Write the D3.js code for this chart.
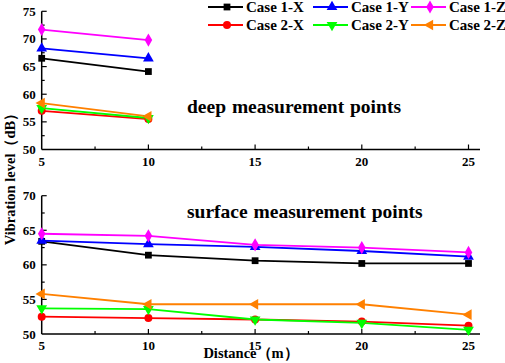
<!DOCTYPE html>
<html>
<head>
<meta charset="utf-8">
<script src="https://cdn.jsdelivr.net/npm/d3@7"></script>
<style>
  body { margin: 0; background: #fff; }
</style>
</head>
<body>
<div id="chart"></div>
<script>
// Data
const seriesNames = ["Case 1-X", "Case 1-Y", "Case 1-Z", "Case 2-X", "Case 2-Y", "Case 2-Z"];
const deepDistance = [5, 10];
const surfaceDistance = [5, 10, 15, 20, 25];

const deepCase1X = [66.5, 64.1];
const deepCase1Y = [68.3, 66.5];
const deepCase1Z = [71.7, 69.8];
const deepCase2X = [57.0, 55.5];
const deepCase2Y = [57.5, 55.7];
const deepCase2Z = [58.4, 56.0];

const surfCase1X = [63.4, 61.4, 60.6, 60.2, 60.2];
const surfCase1Y = [63.5, 63.0, 62.6, 62.0, 61.2];
const surfCase1Z = [64.5, 64.2, 62.9, 62.5, 61.8];
const surfCase2X = [52.5, 52.3, 52.1, 51.8, 51.2];
const surfCase2Y = [53.7, 53.6, 52.1, 51.6, 50.6];
const surfCase2Z = [55.8, 54.3, 54.3, 54.3, 52.8];

const xTicks = [5, 10, 15, 20, 25];
const deepYTicks = [50, 55, 60, 65, 70, 75];
const surfYTicks = [50, 55, 60, 65, 70];

const FONT = '"Liberation Serif", "Times New Roman", serif';

const colors = ["#000000", "#0000ff", "#ff00ff", "#ff0000", "#00ff00", "#ff8000"];
// symbol type + rotation per series
const markers = [
  { type: d3.symbolSquare, rot: 0, size: 46 },
  { type: d3.symbolTriangle, rot: 0, size: 50 },
  { type: d3.symbolDiamond, rot: 0, size: 50 },
  { type: d3.symbolCircle, rot: 0, size: 50 },
  { type: d3.symbolTriangle, rot: 180, size: 50 },
  { type: d3.symbolTriangle, rot: -90, size: 50 },
];

const width = 505, height = 363;
const svg = d3.select("#chart").append("svg")
  .attr("width", width).attr("height", height)
  .attr("font-family", FONT)
  .attr("font-weight", "bold");

const x = d3.scaleLinear().domain([5, 25]).range([41.7, 468.5]);
const xAxisEnd = 480;

function drawPanel(cfg) {
  const y = d3.scaleLinear().domain(cfg.domain).range([cfg.bottom, cfg.top]);
  const g = svg.append("g");

  // axis lines
  g.append("line").attr("x1", x(5)).attr("x2", x(5))
    .attr("y1", cfg.top).attr("y2", cfg.bottom)
    .attr("stroke", "#000").attr("stroke-width", 1.5);
  g.append("line").attr("x1", x(5)).attr("x2", xAxisEnd)
    .attr("y1", cfg.bottom).attr("y2", cfg.bottom)
    .attr("stroke", "#000").attr("stroke-width", 1.5);

  // x ticks (inward) with minors
  const xMinor = d3.range(7.5, 25, 5);
  g.selectAll(".xt").data(xTicks.slice(1)).join("line")
    .attr("x1", d => x(d)).attr("x2", d => x(d))
    .attr("y1", cfg.bottom).attr("y2", cfg.bottom - 5)
    .attr("stroke", "#000").attr("stroke-width", 1.2);
  g.selectAll(".xm").data(xMinor).join("line")
    .attr("x1", d => x(d)).attr("x2", d => x(d))
    .attr("y1", cfg.bottom).attr("y2", cfg.bottom - 3)
    .attr("stroke", "#000").attr("stroke-width", 1.2);
  g.selectAll(".xl").data(xTicks).join("text")
    .attr("x", d => x(d)).attr("y", cfg.bottom + 16)
    .attr("text-anchor", "middle").attr("font-size", 13)
    .text(d => d);

  // y ticks (inward) with minors
  const yt = cfg.yTicks;
  const yMinor = yt.slice(0, -1).map(d => d + 2.5);
  g.selectAll(".yt").data(yt.slice(1)).join("line")
    .attr("x1", x(5)).attr("x2", x(5) + 5)
    .attr("y1", d => y(d)).attr("y2", d => y(d))
    .attr("stroke", "#000").attr("stroke-width", 1.2);
  g.selectAll(".ym").data(yMinor).join("line")
    .attr("x1", x(5)).attr("x2", x(5) + 3)
    .attr("y1", d => y(d)).attr("y2", d => y(d))
    .attr("stroke", "#000").attr("stroke-width", 1.2);
  g.selectAll(".yl").data(yt).join("text")
    .attr("x", x(5) - 6).attr("y", d => y(d) + 4.5)
    .attr("text-anchor", "end").attr("font-size", 13)
    .text(d => d);

  // series
  const line = d3.line().x((d, i) => x(cfg.xs[i])).y(d => y(d));
  cfg.series.forEach((vals, s) => {
    g.append("path").datum(vals)
      .attr("d", line).attr("fill", "none")
      .attr("stroke", colors[s]).attr("stroke-width", 1.8);
  });
  cfg.series.forEach((vals, s) => {
    const m = markers[s];
    g.selectAll(null).data(vals).join("path")
      .attr("d", d3.symbol().type(m.type).size(m.size))
      .attr("transform", (d, i) => `translate(${x(cfg.xs[i])},${y(d)}) rotate(${m.rot})`)
      .attr("fill", colors[s]);
  });

  // panel title
  g.append("text").attr("x", 187).attr("y", cfg.titleY)
    .attr("font-size", 19.5).attr("word-spacing", 1).text(cfg.title);
}

drawPanel({
  domain: [50, 75], top: 11.3, bottom: 149.5, yTicks: deepYTicks,
  xs: deepDistance,
  series: [deepCase1X, deepCase1Y, deepCase1Z, deepCase2X, deepCase2Y, deepCase2Z],
  title: "deep measurement points", titleY: 112.5
});

drawPanel({
  domain: [50, 70], top: 195.7, bottom: 334, yTicks: surfYTicks,
  xs: surfaceDistance,
  series: [surfCase1X, surfCase1Y, surfCase1Z, surfCase2X, surfCase2Y, surfCase2Z],
  title: "surface measurement points", titleY: 218
});

// axis titles
svg.append("text")
  .attr("transform", "translate(15,175.5) rotate(-90)")
  .attr("text-anchor", "middle").attr("font-size", 14.5)
  .text("Vibration level（dB）");
svg.append("text")
  .attr("x", 251).attr("y", 358)
  .attr("text-anchor", "middle").attr("font-size", 14.5)
  .text("Distance（m）");

// legend: 3 columns x 2 rows
const legendCols = [208, 313, 411];
const legendRows = [7, 25];
seriesNames.forEach((name, s) => {
  const cx = legendCols[s % 3], cy = legendRows[Math.floor(s / 3)];
  const lg = svg.append("g");
  lg.append("line").attr("x1", cx).attr("x2", cx + 35)
    .attr("y1", cy).attr("y2", cy)
    .attr("stroke", colors[s]).attr("stroke-width", 1.8);
  const m = markers[s];
  lg.append("path")
    .attr("d", d3.symbol().type(m.type).size(m.size))
    .attr("transform", `translate(${cx + 19},${cy}) rotate(${m.rot})`)
    .attr("fill", colors[s]);
  lg.append("text").attr("x", cx + 38).attr("y", cy + 5)
    .attr("font-size", 15).text(name);
});
</script>
</body>
</html>
